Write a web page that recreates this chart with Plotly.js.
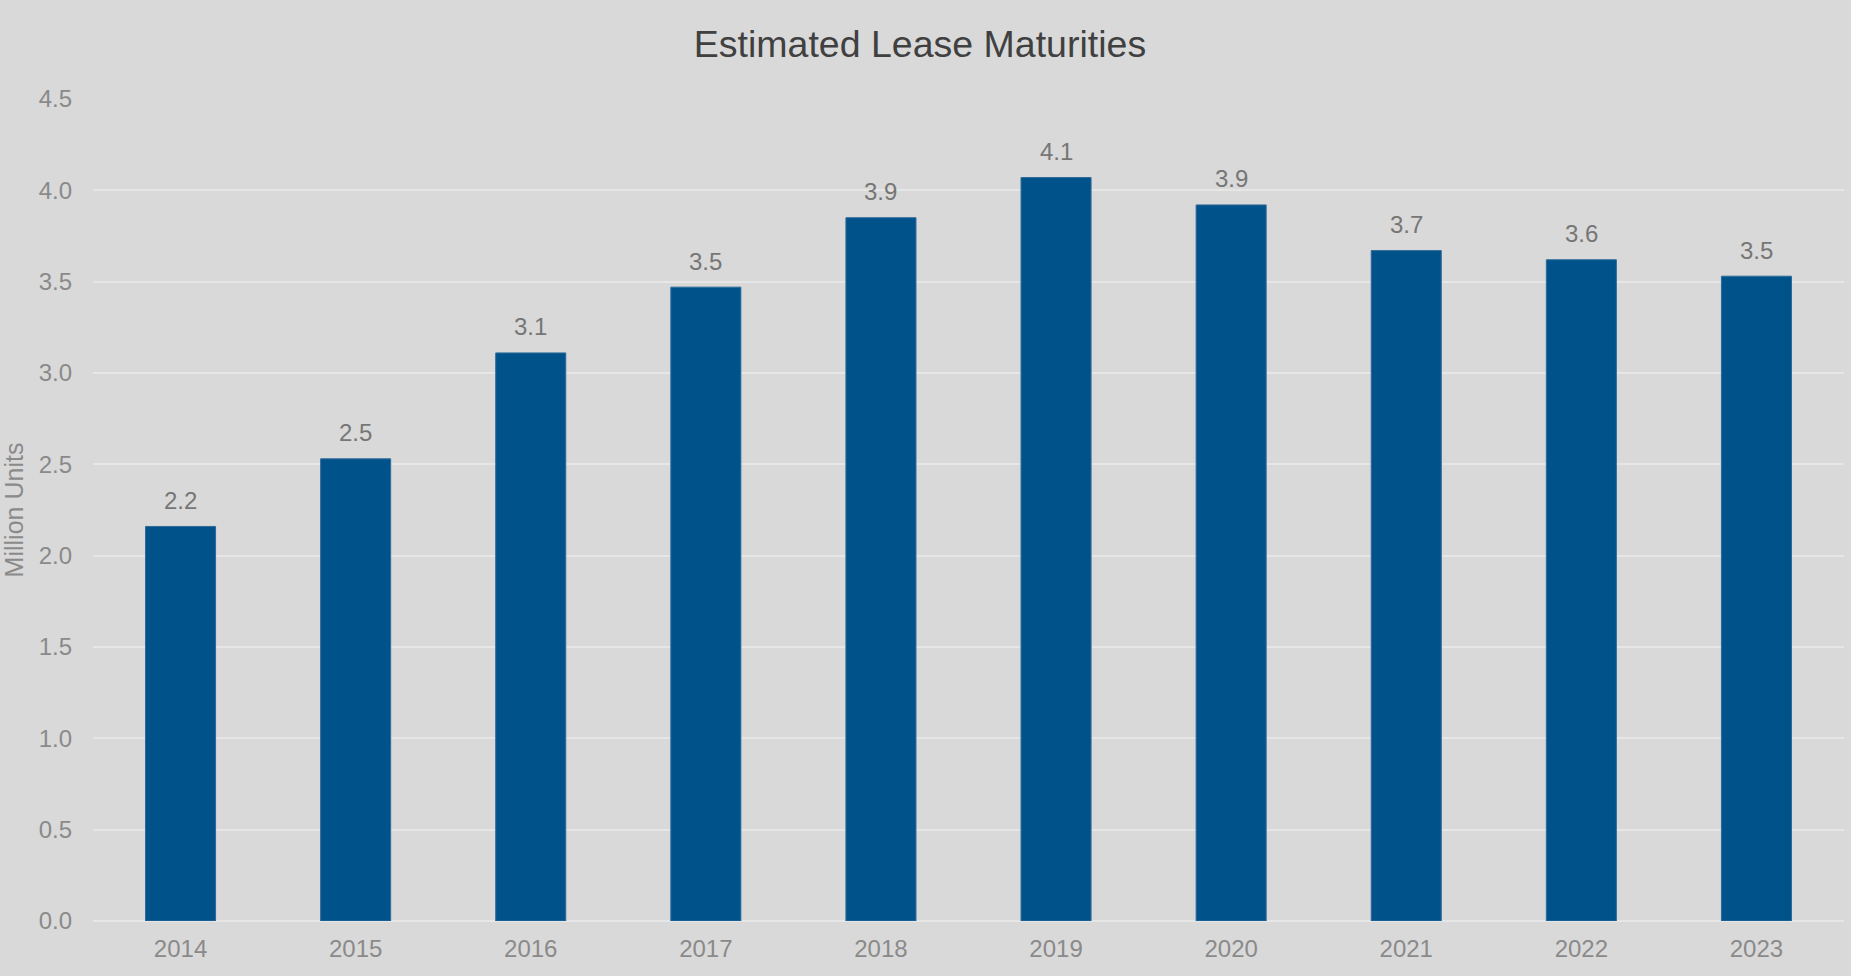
<!DOCTYPE html>
<html>
<head>
<meta charset="utf-8">
<script src="https://cdn.plot.ly/plotly-3.0.1.min.js"></script>
<style>html,body{margin:0;padding:0;background:#d9d9d9;}#chart{width:1851px;height:976px;}</style>
</head>
<body>
<div id="chart"></div>
<script>
var years = ['2014','2015','2016','2017','2018','2019','2020','2021','2022','2023'];
var values = [2.16, 2.53, 3.11, 3.47, 3.85, 4.07, 3.92, 3.67, 3.62, 3.53];
var yTicks = [0, 0.5, 1.0, 1.5, 2.0, 2.5, 3.0, 3.5, 4.0, 4.5];

var font = 'Liberation Sans, Arial, sans-serif';

var trace = {
  type: 'bar',
  x: years,
  y: values,
  marker: {color: '#00528a', line: {color: '#2f6a9a', width: 1}},
  hoverinfo: 'x+y'
};

var annotations = years.map(function (yr, i) {
  return {
    x: i, y: values[i], xref: 'x', yref: 'y',
    text: values[i].toFixed(1),
    showarrow: false, yanchor: 'middle', yshift: 26,
    font: {family: font, size: 24, color: '#767676'}
  };
});

var layout = {
  width: 1851, height: 976,
  paper_bgcolor: '#d9d9d9', plot_bgcolor: '#d9d9d9',
  margin: {l: 93, r: 7, t: 99, b: 55},
  bargap: 0.6,
  showlegend: false,
  font: {family: font, size: 24, color: '#8a8a8a'},
  title: {
    text: 'Estimated Lease Maturities',
    x: 920 / 1851, xref: 'container', xanchor: 'center',
    y: 1 - 44 / 976, yref: 'container', yanchor: 'middle',
    font: {family: font, size: 37.5, color: '#404040'}
  },
  xaxis: {
    type: 'category',
    range: [-0.5, 9.5],
    showgrid: false, zeroline: false, showline: false,
    ticks: '', ticklabelstandoff: 11,
    tickfont: {family: font, size: 24, color: '#8a8a8a'}
  },
  yaxis: {
    range: [0, 4.5],
    tickvals: yTicks,
    ticktext: yTicks.map(function (v) { return v.toFixed(1); }),
    showgrid: true, gridcolor: '#e6e6e6', gridwidth: 2,
    zeroline: true, zerolinecolor: '#e6e6e6', zerolinewidth: 2,
    showline: false, ticks: '', ticklabelstandoff: 20,
    tickfont: {family: font, size: 24, color: '#8a8a8a'},
    title: {text: 'Million Units', standoff: 8, font: {family: font, size: 25, color: '#8a8a8a'}}
  },
  annotations: annotations
};

Plotly.newPlot('chart', [trace], layout, {displayModeBar: false, staticPlot: true});
</script>
</body>
</html>
